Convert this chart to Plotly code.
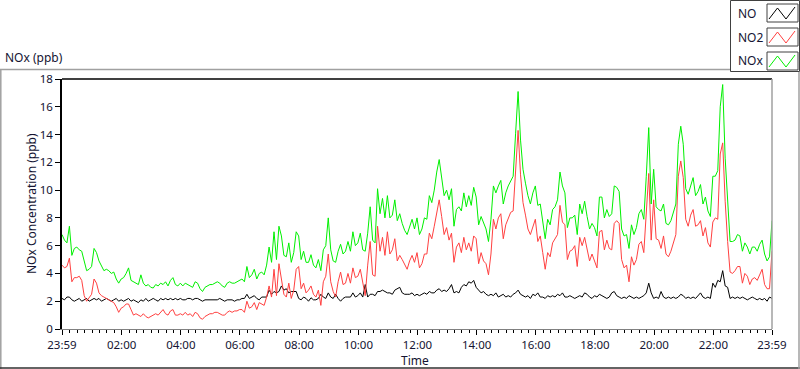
import numpy as np
import plotly.graph_objects as go

# ---- data: 5-minute samples from 23:59 to 23:59 (289 points), ppb ----
no_ppb = [
    2.2,2.1,2.3,2.3,2.1,2.0,2.1,2.2,2.0,2.1,2.2,2.0,2.1,2.2,2.1,2.2,2.0,2.1,2.2,2.1,
    2.0,2.1,2.2,2.0,2.1,2.0,2.1,2.2,2.0,2.1,2.0,1.9,2.1,2.0,2.2,2.0,2.1,2.2,2.1,2.0,
    2.2,2.1,2.2,2.1,2.2,2.1,2.2,2.1,
    2.2,2.1,2.1,2.2,2.2,2.1,2.2,2.2,2.1,2.0,2.1,2.1,2.1,2.1,2.1,2.1,2.2,2.1,2.0,2.1,
    2.1,2.1,2.0,2.1,2.1,2.2,2.2,2.5,2.2,2.3,2.4,2.2,2.1,2.3,2.3,2.3,2.8,2.5,2.7,2.6,
    2.7,3.1,2.8,2.9,2.6,2.7,2.7,2.7,
    2.2,2.1,2.3,2.2,2.0,2.25,2.1,2.1,2.2,2.5,2.3,2.2,2.6,2.3,2.2,2.5,2.2,2.0,2.2,2.3,
    2.3,2.3,2.6,2.3,2.4,2.6,2.3,3.2,2.3,2.5,2.5,2.4,2.7,2.7,2.8,2.7,2.6,2.6,2.5,2.8,
    2.9,3.0,2.6,2.5,2.5,2.5,2.6,2.4,
    2.5,2.4,2.5,2.6,2.5,2.7,2.6,2.6,2.8,2.9,2.7,2.8,2.7,2.9,3.2,2.6,2.7,2.6,3.0,3.2,
    3.1,3.4,3.3,3.5,3.0,2.8,2.6,2.7,2.5,2.4,2.5,2.4,2.6,2.3,2.4,2.5,2.3,2.4,2.3,2.5,
    2.6,2.8,2.5,2.4,2.3,2.4,2.2,2.5,
    2.4,2.6,2.3,2.3,2.2,2.4,2.3,2.4,2.3,2.5,2.4,2.6,2.3,2.3,2.4,2.3,2.2,2.3,2.4,2.3,
    2.6,2.5,2.3,2.2,2.4,2.3,2.5,2.4,2.3,2.2,2.3,2.6,2.7,2.4,2.3,2.2,2.3,2.2,2.4,2.3,
    2.2,2.3,2.2,2.3,2.4,2.6,3.3,2.6,
    2.2,2.3,2.2,2.7,2.3,2.2,2.3,2.2,2.3,2.2,2.3,2.5,2.4,2.2,2.3,2.2,2.3,2.2,2.4,2.6,
    2.3,2.2,2.3,2.2,3.3,3.0,3.5,3.4,4.2,3.1,3.0,2.2,2.3,2.2,2.3,2.2,2.3,2.2,2.1,2.2,
    2.3,2.2,2.1,2.2,2.1,2.2,2.0,2.3,2.2,
]
no2_ppb = [
    4.6,4.4,4.5,5.1,3.4,3.7,3.7,3.8,3.5,2.4,2.0,2.3,2.5,3.6,3.3,2.6,2.4,2.3,2.2,2.1,
    2.0,1.9,1.6,1.2,1.5,1.6,1.8,1.8,1.4,1.0,1.1,1.0,0.9,1.1,0.9,0.8,0.9,1.0,1.1,1.0,
    1.2,1.4,1.1,1.0,1.3,1.4,1.0,1.0,
    1.1,1.0,1.2,1.0,1.1,0.9,1.2,1.1,0.8,0.7,0.9,1.0,1.1,1.1,1.2,1.2,1.1,1.0,1.0,1.2,
    1.3,1.2,1.3,1.3,1.4,1.4,1.2,2.0,1.5,1.6,1.9,1.4,1.9,1.8,1.7,2.3,3.1,2.3,4.3,2.4,
    4.7,3.6,2.5,2.3,3.3,2.2,2.8,4.3,
    4.5,2.9,3.3,2.6,2.8,3.1,2.5,2.3,2.8,1.7,3.4,3.8,5.4,3.4,2.7,2.3,3.4,4.1,3.2,3.3,
    4.0,3.3,4.4,3.7,3.8,4.3,3.4,2.4,4.6,6.3,3.9,3.8,7.4,5.6,6.6,5.3,7.0,5.4,5.7,6.5,
    4.9,5.3,5.0,4.6,4.3,4.9,5.3,4.8,
    5.5,4.4,4.7,5.4,5.4,6.9,6.5,7.4,8.5,9.3,8.1,6.8,7.3,6.4,6.9,4.8,5.9,6.2,5.5,6.6,
    5.7,6.2,5.6,6.7,6.5,4.7,5.5,4.9,4.7,3.9,5.4,7.9,7.2,8.0,8.3,6.5,7.5,7.9,8.4,8.5,
    11.5,14.3,11.1,9.1,8.2,7.2,6.8,7.3,
    7.9,6.3,6.7,5.5,4.3,5.5,5.2,6.2,6.5,6.8,8.9,7.7,7.5,5.0,5.6,5.7,6.0,4.5,6.6,6.0,
    6.6,5.6,4.9,5.4,4.9,4.4,7.0,7.1,5.7,6.4,5.8,5.7,7.6,7.8,7.6,5.0,4.4,4.6,3.4,5.2,
    4.6,5.0,6.1,6.3,5.5,8.4,11.2,6.4,
    9.3,6.5,6.4,5.8,6.7,5.4,5.2,5.6,6.2,6.8,11.0,12.1,10.9,7.9,7.4,8.2,8.6,7.4,7.5,7.8,
    6.7,7.3,6.2,5.9,7.7,8.0,7.9,12.6,13.4,9.2,6.3,4.1,4.0,4.2,4.5,4.5,3.3,4.0,3.8,3.2,
    3.6,3.7,3.5,3.9,4.3,3.2,2.9,2.9,5.6,
]
nox_ppb = [
    6.8,6.4,6.2,7.4,5.3,5.8,5.9,5.7,5.6,4.9,4.2,4.3,4.5,5.8,5.5,4.9,4.5,4.2,4.3,4.2,
    4.0,4.1,3.6,3.3,3.6,3.7,4.0,4.4,3.5,3.4,3.3,3.2,3.9,3.3,3.1,3.2,3.0,2.95,3.2,3.1,
    3.3,3.2,3.4,3.1,3.5,3.7,3.2,3.1,
    3.3,3.1,3.3,3.2,3.1,3.0,3.4,3.3,2.9,2.7,3.0,3.1,3.2,3.2,3.3,3.4,3.3,3.1,3.0,3.3,
    3.4,3.3,3.3,3.4,3.5,3.6,3.4,4.5,3.7,3.9,4.3,3.6,4.0,4.1,3.9,4.6,5.9,4.8,7.0,5.0,
    7.4,6.7,5.3,5.2,6.2,4.8,5.5,7.0,
    6.7,5.0,5.6,4.8,4.8,5.35,4.6,4.4,5.0,4.2,5.7,6.0,8.0,5.7,4.9,4.8,5.6,6.1,5.4,5.6,
    6.3,5.6,7.0,6.0,6.2,6.9,5.7,5.6,6.9,8.8,6.4,6.2,10.1,8.3,9.4,8.0,9.6,8.0,8.2,9.3,
    7.8,8.3,7.6,7.1,6.8,7.4,7.9,7.2,
    8.0,6.8,7.2,8.0,7.9,9.6,9.1,10.0,11.3,12.2,10.8,9.6,10.0,9.3,10.1,7.4,8.6,8.8,8.5,9.8,
    8.8,9.6,8.9,10.2,9.5,7.5,8.1,7.6,7.2,6.3,7.9,10.3,9.8,10.3,10.7,9.0,9.8,10.3,10.7,11.0,
    14.1,17.1,13.6,11.5,10.5,9.6,9.0,9.8,
    10.3,8.9,9.0,7.8,6.5,7.9,7.5,8.6,8.8,9.3,11.3,10.3,9.8,7.3,8.0,8.0,8.2,6.8,9.0,8.3,
    9.2,8.1,7.2,7.6,7.3,6.7,9.5,9.5,8.0,8.6,8.1,8.3,10.3,10.2,9.9,7.2,6.7,6.8,5.8,7.5,
    6.8,7.3,8.3,8.6,7.9,11.0,14.5,9.0,
    11.5,8.8,8.6,8.5,9.0,7.6,7.5,7.8,8.5,9.0,13.3,14.6,13.3,10.1,9.7,10.4,10.9,9.6,9.9,10.4,
    9.0,9.5,8.5,8.1,11.0,11.0,11.4,16.0,17.6,12.3,9.3,6.3,6.3,6.4,6.8,6.7,5.6,6.2,5.9,5.4,
    5.9,5.9,5.6,6.1,6.4,5.4,4.9,5.2,7.8,
]
sample_minutes = 5
hour_labels = ["23:59", "02:00", "04:00", "06:00", "08:00", "10:00", "12:00",
               "14:00", "16:00", "18:00", "20:00", "22:00", "23:59"]
y_ticks = [0, 2, 4, 6, 8, 10, 12, 14, 16, 18]

t_hours = np.arange(len(nox_ppb)) * sample_minutes / 60.0
# tick positions: hours after the 23:59 start
tick_pos = [0.0] + [h + 1 / 60 for h in range(2, 24, 2)] + [24.0]

FONT = "Noto Sans"
TXT = "#141432"

fig = go.Figure()
for name, vals, col in [("NO", no_ppb, "#000000"),
                        ("NO2", no2_ppb, "#ff4040"),
                        ("NOx", nox_ppb, "#00f000")]:
    fig.add_trace(go.Scatter(x=t_hours[:len(vals)], y=vals, mode="lines", name=name,
                             line=dict(color=col, width=1), showlegend=False,
                             hoverinfo="skip"))

# pixel helpers for decoration placement (plot area: x 62..772, y 79..329)
L, R, T, B = 62, 772, 79, 329
def px(x):
    return (x - L) / (R - L)
def py(y):
    return (B - y) / (B - T)

shapes = []
# plot frame: top black, right grey
shapes.append(dict(type="line", xref="paper", yref="paper", x0=0, x1=1, y0=1, y1=1,
                   line=dict(color="#000000", width=1.5)))
shapes.append(dict(type="line", xref="paper", yref="paper", x0=1, x1=1, y0=0, y1=1,
                   line=dict(color="#a0a0a0", width=1.5)))
# outer panel border
shapes.append(dict(type="line", xref="paper", yref="paper", x0=px(0), x1=px(730),
                   y0=py(69.5), y1=py(69.5), line=dict(color="#a0a0a0", width=1.5)))
shapes.append(dict(type="line", xref="paper", yref="paper", x0=px(0.8), x1=px(0.8),
                   y0=py(69.5), y1=py(369), line=dict(color="#a0a0a0", width=1.5)))
shapes.append(dict(type="line", xref="paper", yref="paper", x0=px(0), x1=px(800),
                   y0=py(368), y1=py(368), line=dict(color="#303030", width=1.5)))
shapes.append(dict(type="line", xref="paper", yref="paper", x0=px(799), x1=px(799),
                   y0=py(72), y1=py(369), line=dict(color="#a0a0a0", width=1.5)))
# legend box
shapes.append(dict(type="rect", xref="paper", yref="paper", x0=px(730.5), x1=px(799.5),
                   y0=py(71.5), y1=py(0.5), line=dict(color="#404040", width=1)))

annotations = []
legend_items = [("NO", "#000000"), ("NO2", "#ff4040"), ("NOx", "#00f000")]
for i, (nm, col) in enumerate(legend_items):
    top = 4 + 24 * i
    bot = top + 18
    shapes.append(dict(type="rect", xref="paper", yref="paper", x0=px(767), x1=px(798),
                       y0=py(bot), y1=py(top), line=dict(color="#404040", width=1)))
    path = "M {} {} L {} {} L {} {} L {} {}".format(
        px(769), py(bot - 3), px(777.5), py(top + 4), px(786), py(bot - 3), px(795), py(top + 3))
    shapes.append(dict(type="path", xref="paper", yref="paper", path=path,
                       line=dict(color=col, width=1)))
    annotations.append(dict(text=nm, xref="paper", yref="paper", x=px(736), y=py(top + 9),
                            xanchor="left", yanchor="middle", showarrow=False,
                            font=dict(family=FONT, size=12, color=TXT)))

annotations.append(dict(text="NOx (ppb)", xref="paper", yref="paper", x=px(3), y=py(58),
                        xanchor="left", yanchor="middle", showarrow=False,
                        font=dict(family=FONT, size=12, color=TXT)))
annotations.append(dict(text="NOx Concentration (ppb)", xref="paper", yref="paper",
                        x=px(31), y=py(204), textangle=-90, xanchor="center", yanchor="middle",
                        showarrow=False, font=dict(family=FONT, size=12, color=TXT)))
annotations.append(dict(text="Time", xref="paper", yref="paper", x=px(415), y=py(360),
                        xanchor="center", yanchor="middle", showarrow=False,
                        font=dict(family=FONT, size=12, color=TXT)))

fig.update_layout(
    width=800, height=369,
    margin=dict(l=L, r=800 - R, t=T, b=369 - B),
    paper_bgcolor="#ffffff", plot_bgcolor="#ffffff",
    font=dict(family=FONT, size=11, color=TXT),
    shapes=shapes, annotations=annotations,
    hovermode=False,
    xaxis=dict(range=[0, 24], tickmode="array", tickvals=tick_pos, ticktext=hour_labels,
               showgrid=False, zeroline=False, showline=True, linecolor="#808080", linewidth=1,
               ticks="outside", ticklen=5, tickcolor="#000000", tickwidth=1,
               tickfont=dict(family=FONT, size=11.5, color=TXT),
               minor=dict(tickmode="linear", tick0=1 / 60, dtick=0.25, ticks="outside",
                          ticklen=3, tickcolor="#000000", tickwidth=1, showgrid=False)),
    yaxis=dict(range=[0, 18], tickmode="array", tickvals=y_ticks,
               showgrid=False, zeroline=False, showline=True, linecolor="#000000", linewidth=1.5,
               ticks="outside", ticklen=5, tickcolor="#000000", tickwidth=1,
               tickfont=dict(family=FONT, size=11.5, color=TXT)),
)

fig.write_html("out.html", config={"displayModeBar": False},
               post_script="document.body.style.margin='0';document.body.style.overflow='hidden';")
